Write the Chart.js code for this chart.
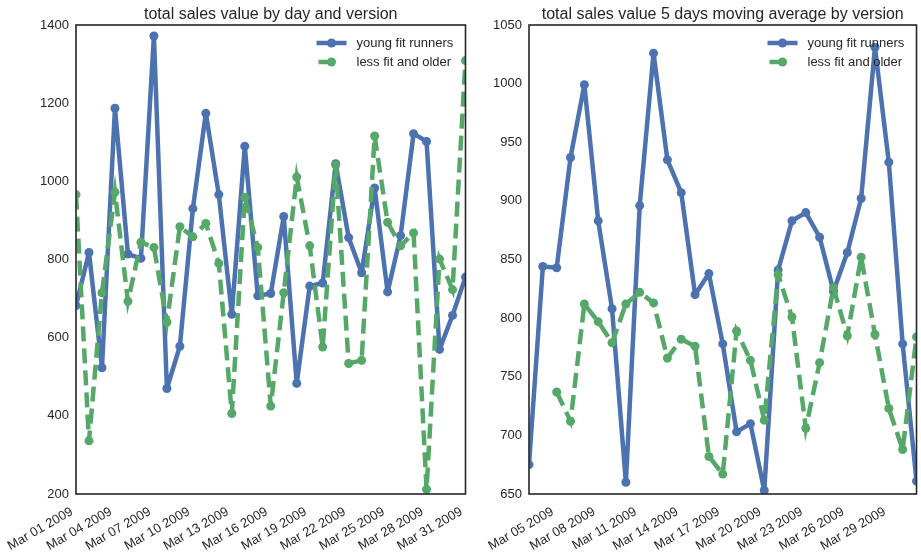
<!DOCTYPE html>
<html>
<head>
<meta charset="utf-8">
<script src="https://cdn.jsdelivr.net/npm/chart.js@4"></script>
<style>
  html, body { margin: 0; padding: 0; background: #fff; }
  #wrap { position: relative; width: 921px; height: 555px; }
  .panel { position: absolute; top: 0; height: 555px; }
  #dailyPanel { left: 0; width: 470px; }
  #maPanel { left: 470px; width: 451px; }
</style>
</head>
<body>
<div id="wrap">
  <div class="panel" id="dailyPanel"><canvas id="dailyChart" width="470" height="555"></canvas></div>
  <div class="panel" id="maPanel"><canvas id="maChart" width="451" height="555"></canvas></div>
</div>
<script>
// ---- daily totals, March 2009 ----
const dailyDays = [1, 2, 3, 4, 5, 6, 7, 8, 9, 10, 11, 12, 13, 14, 15, 16,
                   17, 18, 19, 20, 21, 22, 23, 24, 25, 26, 27, 28, 29, 30, 31];
const youngDaily = [682, 818, 523, 1187, 814, 803, 1372, 470, 578, 930, 1174, 966, 660, 1090, 707, 713,
                    910, 483, 732, 740, 1045, 856, 766, 983, 717, 861, 1122, 1102, 570, 657, 755];
const olderDaily = [966, 336, 715, 972, 693, 844, 831, 640, 884, 858, 892, 790, 406, 959, 831, 425,
                    715, 1011, 835, 576, 1042, 534, 542, 1116, 895, 835, 868, 212, 801, 723, 1309];
const dailyTickDays = [1, 4, 7, 10, 13, 16, 19, 22, 25, 28, 31];
const dailyTickLabels = ['Mar 01 2009', 'Mar 04 2009', 'Mar 07 2009', 'Mar 10 2009', 'Mar 13 2009',
                         'Mar 16 2009', 'Mar 19 2009', 'Mar 22 2009', 'Mar 25 2009', 'Mar 28 2009',
                         'Mar 31 2009'];

// ---- 5 day moving average ----
const maDays = [3, 4, 5, 6, 7, 8, 9, 10, 11, 12, 13, 14, 15, 16,
                17, 18, 19, 20, 21, 22, 23, 24, 25, 26, 27, 28, 29, 30, 31];
const youngMA = [675, 844, 843, 937, 999, 883, 808, 660, 896, 1026, 935, 907, 820, 838,
                 778, 703, 710, 653, 841, 883, 890, 869, 823, 856, 902, 1031, 933, 778, 661];
const olderMA = [null, null, 737, 712, 812, 797, 779, 812, 822, 813, 766, 782, 776, 682,
                 667, 789, 764, 713, 837, 801, 706, 762, 826, 785, 852, 786, 723, 688, 784];
const maTickDays = [5, 8, 11, 14, 17, 20, 23, 26, 29];
const maTickLabels = ['Mar 05 2009', 'Mar 08 2009', 'Mar 11 2009', 'Mar 14 2009', 'Mar 17 2009',
                      'Mar 20 2009', 'Mar 23 2009', 'Mar 26 2009', 'Mar 29 2009'];

const seriesNames = ['young fit runners', 'less fit and older'];

const FONT = '"Liberation Sans", Arial, Helvetica, sans-serif';
const INK = '#262626';
const BLUE = '#4C72B0';
const GREEN = '#55A868';
const LINE_W = 4.5;
const DASH = [15, 7];
const MARK_R = 4.5;

// frame, title and legend drawn on top of the plot area
const decorations = {
  id: 'decorations',
  afterDatasetsDraw(chart, args, opts) {
    const { ctx, chartArea: a } = chart;
    ctx.save();
    // four-sided frame
    ctx.strokeStyle = INK;
    ctx.lineWidth = 1.6;
    ctx.strokeRect(a.left, a.top, a.right - a.left, a.bottom - a.top);

    // title
    ctx.fillStyle = INK;
    ctx.font = '16px ' + FONT;
    ctx.textAlign = 'center';
    ctx.textBaseline = 'alphabetic';
    ctx.fillText(opts.title, (a.left + a.right) / 2, 19);

    // legend, upper right, no box
    const x0 = a.right - 149, x1 = a.right - 119, xm = (x0 + x1) / 2;
    const xt = a.right - 109;
    chart.data.datasets.forEach((ds, i) => {
      const y = a.top + 18 + i * 19;
      ctx.strokeStyle = ds.borderColor;
      ctx.lineWidth = LINE_W;
      ctx.lineCap = 'butt';
      ctx.beginPath();
      if (ds.borderDash && ds.borderDash.length) {
        ctx.moveTo(x0 + 2, y);
        ctx.lineTo(xm, y);
      } else {
        ctx.moveTo(x0, y);
        ctx.lineTo(x1, y);
      }
      ctx.stroke();
      ctx.fillStyle = ds.borderColor;
      ctx.beginPath();
      ctx.arc(xm, y, MARK_R, 0, Math.PI * 2);
      ctx.fill();
      ctx.fillStyle = INK;
      ctx.font = '13px ' + FONT;
      ctx.textAlign = 'left';
      ctx.textBaseline = 'middle';
      ctx.fillText(ds.label, xt, y);
    });
    ctx.restore();
  }
};

function makeChart(canvasId, cfg) {
  const toPoints = (vals) => cfg.days.map((d, i) => ({ x: d, y: vals[i] }));
  return new Chart(document.getElementById(canvasId), {
    type: 'line',
    data: {
      datasets: [
        {
          label: seriesNames[0],
          data: toPoints(cfg.young),
          borderColor: BLUE,
          backgroundColor: BLUE,
          borderWidth: LINE_W,
          borderJoinStyle: 'round',
          pointRadius: MARK_R,
          pointBorderWidth: 0,
          pointBackgroundColor: BLUE,
          tension: 0,
          spanGaps: false,
          order: 1
        },
        {
          label: seriesNames[1],
          data: toPoints(cfg.older),
          borderColor: GREEN,
          backgroundColor: GREEN,
          borderWidth: LINE_W,
          borderDash: DASH,
          borderCapStyle: 'butt',
          pointRadius: MARK_R,
          pointBorderWidth: 0,
          pointBackgroundColor: GREEN,
          tension: 0,
          spanGaps: false,
          order: 0
        }
      ]
    },
    options: {
      responsive: false,
      animation: false,
      events: [],
      layout: { padding: { top: 25, right: cfg.padRight, bottom: 0, left: 0 } },
      plugins: {
        legend: { display: false },
        title: { display: false },
        tooltip: { enabled: false },
        decorations: { title: cfg.title }
      },
      scales: {
        x: {
          type: 'linear',
          min: cfg.days[0],
          max: cfg.days[cfg.days.length - 1],
          afterBuildTicks: (s) => { s.ticks = cfg.tickDays.map(v => ({ value: v })); },
          afterFit: (s) => {
            s.height = 555 - 494;
            s.paddingLeft = 0;
            s.paddingRight = 0;
          },
          grid: { display: false, drawTicks: false },
          border: { display: false },
          ticks: {
            autoSkip: false,
            minRotation: 30,
            maxRotation: 30,
            padding: 10,
            labelOffset: -4,
            color: INK,
            font: { family: FONT, size: 13 },
            callback: (v, i) => cfg.tickLabels[i]
          }
        },
        y: {
          type: 'linear',
          min: cfg.yMin,
          max: cfg.yMax,
          afterFit: (s) => {
            s.width = cfg.yWidth;
            s.paddingTop = 0;
            s.paddingBottom = 0;
          },
          grid: { display: false, drawTicks: false },
          border: { display: false },
          ticks: {
            stepSize: cfg.yStep,
            padding: 7,
            color: INK,
            font: { family: FONT, size: 13 },
            callback: (v) => String(v)
          }
        }
      }
    },
    plugins: [decorations]
  });
}

makeChart('dailyChart', {
  days: dailyDays, young: youngDaily, older: olderDaily,
  tickDays: dailyTickDays, tickLabels: dailyTickLabels,
  yMin: 200, yMax: 1400, yStep: 200,
  yWidth: 76, padRight: 4,
  title: 'total sales value by day and version'
});

makeChart('maChart', {
  days: maDays, young: youngMA, older: olderMA,
  tickDays: maTickDays, tickLabels: maTickLabels,
  yMin: 650, yMax: 1050, yStep: 50,
  yWidth: 59, padRight: 3,
  title: 'total sales value 5 days moving average by version'
});
</script>
</body>
</html>
